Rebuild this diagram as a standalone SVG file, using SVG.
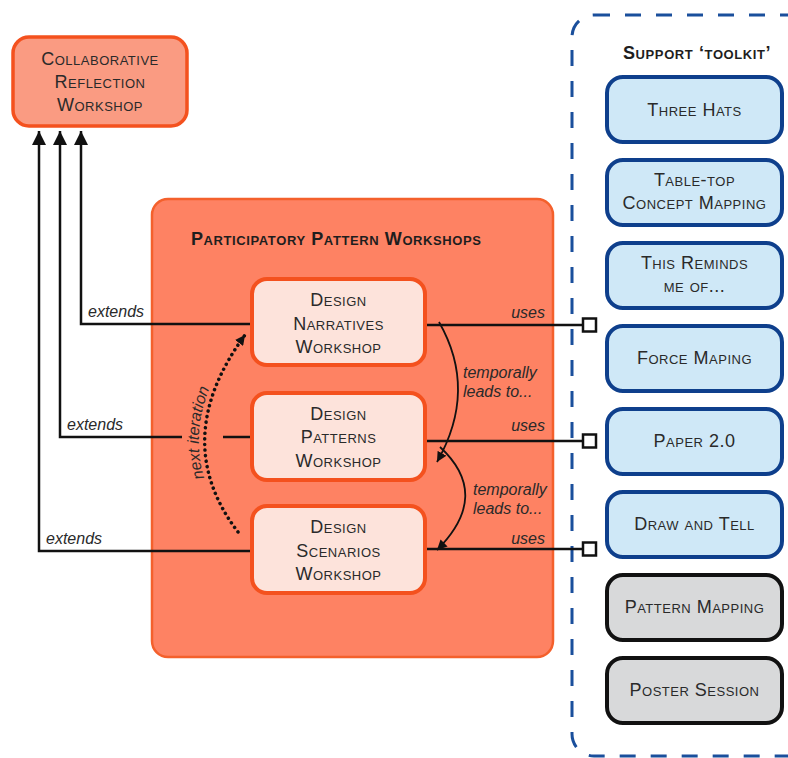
<svg xmlns="http://www.w3.org/2000/svg" width="788" height="758" viewBox="0 0 788 758">
<style>
  .sc { font-family: "Liberation Sans", Arial, sans-serif; font-variant: small-caps; font-size: 18px; letter-spacing: 0.5px; fill: #2a2a2a; text-anchor: middle; }
  .title { font-family: "Liberation Sans", Arial, sans-serif; font-variant: small-caps; font-weight: bold; font-size: 18px; letter-spacing: 0.6px; fill: #1e1e1e; }
  .lbl { font-family: "Liberation Sans", Arial, sans-serif; font-style: italic; font-size: 16px; fill: #2a2a2a; }
  .inner { fill: #fde3db; stroke: #f4511e; stroke-width: 4; }
  .tool { fill: #cfe8f7; stroke: #0e3f8c; stroke-width: 4; }
  .gray { fill: #d8d9da; stroke: #111; stroke-width: 4; }
  .conn { fill: none; stroke: #111; stroke-width: 2.5; }
  .thin { fill: none; stroke: #111; stroke-width: 1.8; }
  .sq { fill: #fff; stroke: #111; stroke-width: 2.5; }
</style>
<defs>
  <marker id="arrUp" markerUnits="userSpaceOnUse" viewBox="0 0 14 14" refX="14" refY="7" markerWidth="14" markerHeight="14" orient="auto">
    <path d="M0,0 L14,7 L0,14 Z" fill="#111"/>
  </marker>
  <marker id="arrSm" markerUnits="userSpaceOnUse" viewBox="0 0 10 10" refX="10" refY="5" markerWidth="10" markerHeight="10" orient="auto">
    <path d="M0,0 L10,5 L0,10 Z" fill="#111"/>
  </marker>
</defs>

<g id="support-toolkit-container">
  <rect x="572" y="15" width="240" height="741" rx="22" fill="none" stroke="#1a4f9c" stroke-width="3" stroke-dasharray="16 15"/>
  <text class="title" x="623" y="59">Support ‘toolkit’</text>
</g>

<g id="participatory-pattern-workshops">
  <rect x="152" y="199" width="401" height="458" rx="16" fill="#fe8263" stroke="#f4602c" stroke-width="2.5"/>
  <text class="title" x="191" y="245">Participatory Pattern Workshops</text>
</g>

<g id="collaborative-reflection-workshop">
  <rect x="13" y="37" width="174" height="89" rx="16" fill="#fa9b82" stroke="#f4511e" stroke-width="3.5"/>
  <text class="sc" x="100" y="65">Collaborative</text>
  <text class="sc" x="100" y="88">Reflection</text>
  <text class="sc" x="100" y="111">Workshop</text>
</g>

<g id="connectors">
  <path class="conn" d="M252 324 H81 V131" marker-end="url(#arrUp)"/>
  <path class="conn" d="M252 437 H223"/>
  <path class="conn" d="M182 437 H60 V131" marker-end="url(#arrUp)"/>
  <path class="conn" d="M252 551 H39 V131" marker-end="url(#arrUp)"/>
  <text class="lbl" x="88" y="317">extends</text>
  <text class="lbl" x="67" y="430">extends</text>
  <text class="lbl" x="46" y="544">extends</text>

  <path class="conn" d="M425 325 H583"/>
  <rect class="sq" x="583" y="318.5" width="13" height="13"/>
  <path class="conn" d="M425 441 H583"/>
  <rect class="sq" x="583" y="434.5" width="13" height="13"/>
  <path class="conn" d="M425 549 H583"/>
  <rect class="sq" x="583" y="542.5" width="13" height="13"/>
  <text class="lbl" x="545" y="318" text-anchor="end">uses</text>
  <text class="lbl" x="545" y="431" text-anchor="end">uses</text>
  <text class="lbl" x="545" y="544" text-anchor="end">uses</text>

  <path class="thin" d="M439 322 Q478 390 437 462" marker-end="url(#arrSm)"/>
  <path class="thin" d="M440 447 Q492 495 437 550" marker-end="url(#arrSm)"/>
  <text class="lbl" x="463" y="378">temporally</text>
  <text class="lbl" x="463" y="397">leads to...</text>
  <text class="lbl" x="473" y="495">temporally</text>
  <text class="lbl" x="473" y="514">leads to...</text>

  <path d="M238 532 Q168 440 245 335" fill="none" stroke="#111" stroke-width="3.5" stroke-linecap="round" stroke-dasharray="0.1 5.5" marker-end="url(#arrSm)"/>
  <path id="nextPath" d="M234 532 Q160 440 241 335" fill="none" stroke="none"/>
  <text class="lbl" text-anchor="middle"><textPath href="#nextPath" startOffset="50%">next  iteration</textPath></text>
</g>

<g id="design-narratives-workshop">
  <rect class="inner" x="252" y="279" width="173" height="86" rx="15"/>
  <text class="sc" x="338.5" y="306">Design</text>
  <text class="sc" x="338.5" y="330">Narratives</text>
  <text class="sc" x="338.5" y="353">Workshop</text>
</g>
<g id="design-patterns-workshop">
  <rect class="inner" x="252" y="393" width="173" height="87" rx="15"/>
  <text class="sc" x="338.5" y="420">Design</text>
  <text class="sc" x="338.5" y="443">Patterns</text>
  <text class="sc" x="338.5" y="467">Workshop</text>
</g>
<g id="design-scenarios-workshop">
  <rect class="inner" x="252" y="506" width="173" height="87" rx="15"/>
  <text class="sc" x="338.5" y="533">Design</text>
  <text class="sc" x="338.5" y="557">Scenarios</text>
  <text class="sc" x="338.5" y="580">Workshop</text>
</g>

<g id="three-hats">
  <rect class="tool" x="607" y="77" width="175" height="65" rx="16"/>
  <text class="sc" x="694.5" y="116">Three Hats</text>
</g>
<g id="table-top-concept-mapping">
  <rect class="tool" x="607" y="160" width="175" height="65" rx="16"/>
  <text class="sc" x="694.5" y="186">Table-top</text>
  <text class="sc" x="694.5" y="209">Concept Mapping</text>
</g>
<g id="this-reminds-me-of">
  <rect class="tool" x="607" y="243" width="175" height="65" rx="16"/>
  <text class="sc" x="694.5" y="269">This Reminds</text>
  <text class="sc" x="694.5" y="292">me of...</text>
</g>
<g id="force-maping">
  <rect class="tool" x="607" y="326" width="175" height="65" rx="16"/>
  <text class="sc" x="694.5" y="364">Force Maping</text>
</g>
<g id="paper-2-0">
  <rect class="tool" x="607" y="409" width="175" height="65" rx="16"/>
  <text class="sc" x="694.5" y="447">Paper 2.0</text>
</g>
<g id="draw-and-tell">
  <rect class="tool" x="607" y="492" width="175" height="65" rx="16"/>
  <text class="sc" x="694.5" y="530">Draw and Tell</text>
</g>
<g id="pattern-mapping">
  <rect class="gray" x="607" y="575" width="175" height="65" rx="16"/>
  <text class="sc" x="694.5" y="613">Pattern Mapping</text>
</g>
<g id="poster-session">
  <rect class="gray" x="607" y="658" width="175" height="65" rx="16"/>
  <text class="sc" x="694.5" y="696">Poster Session</text>
</g>
</svg>
